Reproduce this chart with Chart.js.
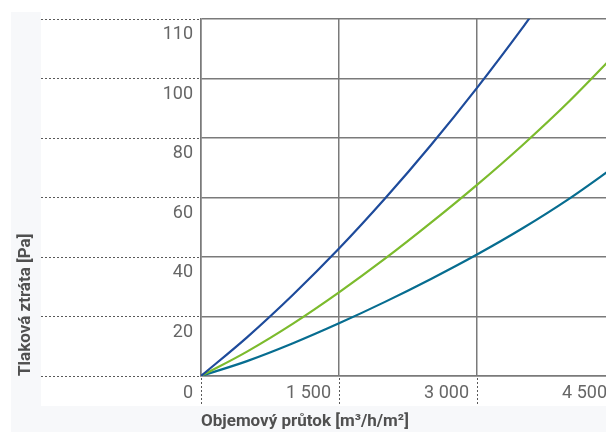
<!DOCTYPE html>
<html lang="cs">

<head>
  <meta charset="UTF-8">
  <title>Tlaková ztráta</title>
  <script src="https://cdn.jsdelivr.net/npm/chart.js"></script>
  <style>
    html,
    body {
      margin: 0;
      padding: 0;
      overflow: hidden;
      background: #fff;
    }

    canvas {
      position: absolute;
      left: 0;
      top: 0;
    }
  </style>
</head>

<body>

  <canvas id="lossChart" width="615" height="432"></canvas>

  <script>
    // ticks (nula na ose y se kryje s nulou na ose x)
    const xTicks = [0, 1500, 3000, 4500];
    const xTickLabels = ['0', '1 500', '3 000', '4 500'];
    const yTicks = [0, 20, 40, 60, 80, 100, 120];
    const yTickLabels = ['', '20', '40', '60', '80', '100', '110'];

    // krivky
    const blueFlow = [0, 500, 1000, 1500, 2000, 2500, 3000, 3500, 3600];
    const bluePressure = [0, 13.0, 27.3, 42.8, 59.6, 77.6, 96.8, 117.2, 121.5];

    const greenFlow = [0, 500, 1000, 1500, 2000, 2500, 3000, 3500, 4000, 4500];
    const greenPressure = [0, 8.2, 17.6, 28.1, 39.4, 51.5, 64.2, 77.7, 92.2, 108.0];

    const tealFlow = [0, 500, 1000, 1500, 2000, 2500, 3000, 3500, 4000, 4500];
    const tealPressure = [0, 5.0, 11.0, 17.7, 24.9, 32.6, 40.8, 49.7, 59.5, 70.4];

    const toPoints = (xs, ys) => xs.map((x, i) => ({ x: x, y: ys[i] }));

    function series(xs, ys, color) {
      return {
        data: toPoints(xs, ys),
        borderColor: color,
        backgroundColor: color,
        borderWidth: 2.2,
        pointRadius: 0,
        showLine: true,
        fill: false,
        cubicInterpolationMode: 'monotone',
        clip: 0
      };
    }

    const GRID = '#7a7a7a';
    const TITLE_FONT = { family: '"Liberation Sans Narrow", "Roboto", sans-serif', size: 17, weight: 'bold' };

    // pozadi + tečkované přesahy mřížky
    const framePlugin = {
      id: 'frame',
      beforeDraw(chart) {
        const ctx = chart.ctx;
        ctx.save();
        ctx.fillStyle = '#f7f8fa';
        ctx.fillRect(11, 12, chart.width - 11, chart.height - 12);
        ctx.fillStyle = '#ffffff';
        ctx.fillRect(41, 0, chart.width - 41, 406);
        ctx.restore();
      },
      afterDraw(chart) {
        const ctx = chart.ctx;
        const xs = chart.scales.x;
        const ys = chart.scales.y;
        const area = chart.chartArea;
        ctx.save();
        ctx.strokeStyle = '#5a5a5a';
        ctx.lineWidth = 1;
        ctx.setLineDash([2, 2]);
        yTicks.forEach(v => {
          const py = Math.round(ys.getPixelForValue(v)) + 0.5;
          ctx.beginPath();
          ctx.moveTo(41, py);
          ctx.lineTo(area.left - 1, py);
          ctx.stroke();
        });
        xTicks.forEach(v => {
          const px = Math.round(xs.getPixelForValue(v)) + 0.5;
          ctx.beginPath();
          ctx.moveTo(px, area.bottom + 2);
          ctx.lineTo(px, 406);
          ctx.stroke();
        });
        ctx.restore();
      }
    };

    const ctx = document.getElementById('lossChart').getContext('2d');
    new Chart(ctx, {
      type: 'scatter',
      data: {
        datasets: [
          series(blueFlow, bluePressure, '#1e4b9b'),
          series(greenFlow, greenPressure, '#7cbb2d'),
          series(tealFlow, tealPressure, '#076d90')
        ]
      },
      options: {
        responsive: false,
        animation: false,
        devicePixelRatio: 1,
        layout: { padding: { top: 12, left: 0, right: 0, bottom: 0 } },
        plugins: {
          legend: { display: false },
          tooltip: { enabled: false }
        },
        scales: {
          x: {
            type: 'linear',
            min: 0,
            max: 4500,
            afterBuildTicks: s => { s.ticks = xTicks.map(v => ({ value: v })); },
            afterFit: s => { s.height = 56; s.paddingLeft = 0; s.paddingRight = 0; },
            grid: { color: GRID, lineWidth: 1.5, drawTicks: false },
            border: { color: GRID, width: 1.5 },
            ticks: {
              align: 'end',
              labelOffset: -8,
              padding: 7,
              color: '#666',
              font: { family: 'Roboto', size: 18 },
              callback: (v, i) => xTickLabels[i]
            },
            title: {
              display: true,
              text: 'Objemový průtok [m³/h/m²]',
              align: 'start',
              color: '#505050',
              padding: { top: 0, bottom: 0 },
              font: TITLE_FONT
            }
          },
          y: {
            type: 'linear',
            min: 0,
            max: 120,
            afterBuildTicks: s => { s.ticks = yTicks.map(v => ({ value: v })); },
            afterFit: s => { s.width = 201; },
            grid: { color: GRID, lineWidth: 1.5, drawTicks: false },
            border: { color: GRID, width: 1.5 },
            ticks: {
              labelOffset: 16,
              padding: 8,
              color: '#666',
              font: { family: 'Roboto', size: 18 },
              callback: (v, i) => yTickLabels[i]
            },
            title: {
              display: true,
              text: 'Tlaková ztráta [Pa]',
              align: 'start',
              color: '#505050',
              padding: { top: 16, bottom: 0 },
              font: TITLE_FONT
            }
          }
        }
      },
      plugins: [framePlugin]
    });
  </script>

</body>

</html>
